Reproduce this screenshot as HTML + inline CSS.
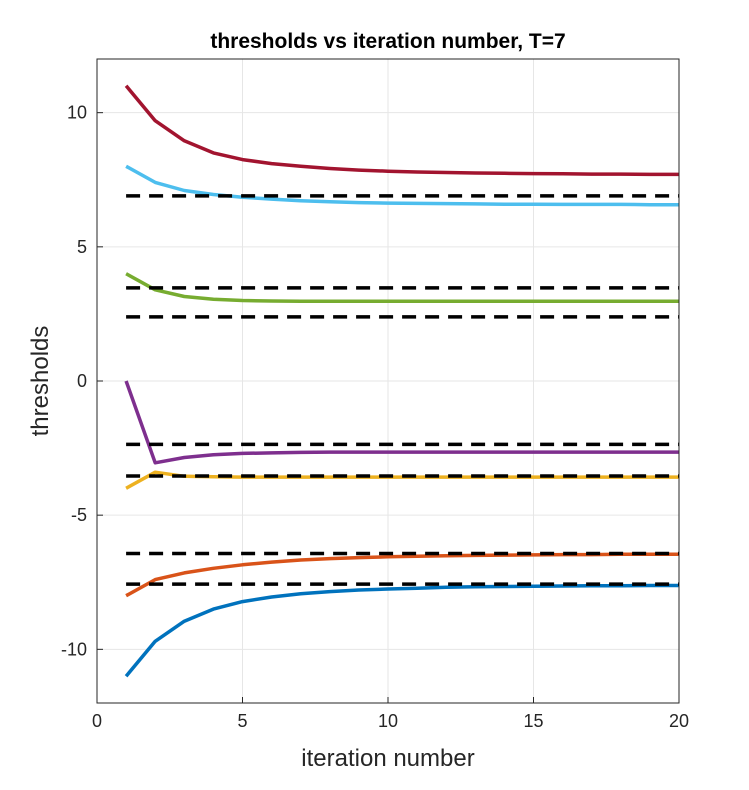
<!DOCTYPE html>
<html><head><meta charset="utf-8"><style>
body{margin:0;background:#fff;}
svg{display:block;font-family:"Liberation Sans",Arial,sans-serif;}
</style></head><body>
<svg id="chart" width="749" height="790">
<rect x="0" y="0" width="749" height="790" fill="#fff"/>
<g id="grid"></g><g id="dashes"></g><g id="series"></g><g id="axes"></g>
<text x="388" y="48" text-anchor="middle" font-size="21" font-weight="bold" fill="#000">thresholds vs iteration number, T=7</text>
<text x="388" y="766" text-anchor="middle" font-size="24" fill="#262626">iteration number</text>
<text transform="translate(48,381) rotate(-90)" text-anchor="middle" font-size="24" fill="#262626">thresholds</text>
</svg>
<script>
const xTicks=[0,5,10,15,20];
const yTicks=[-10,-5,0,5,10];
const yTickLabels=['-10','-5','0','5','10'];
const dashedLevels=[6.9,3.47,2.39,-2.36,-3.54,-6.43,-7.57];
const iterations=[1,2,3,4,5,6,7,8,9,10,11,12,13,14,15,16,17,18,19,20];
const seriesDarkRed=[11,9.7,8.95,8.5,8.25,8.1,8.0,7.92,7.86,7.82,7.79,7.77,7.75,7.74,7.73,7.72,7.71,7.71,7.7,7.7];
const seriesLightBlue=[8,7.4,7.1,6.95,6.85,6.78,6.72,6.68,6.65,6.63,6.62,6.61,6.6,6.59,6.59,6.58,6.58,6.58,6.57,6.57];
const seriesGreen=[4,3.4,3.15,3.05,3.0,2.98,2.97,2.97,2.97,2.97,2.97,2.97,2.97,2.97,2.97,2.97,2.97,2.97,2.97,2.97];
const seriesPurple=[0,-3.05,-2.85,-2.75,-2.7,-2.68,-2.66,-2.65,-2.65,-2.65,-2.65,-2.65,-2.65,-2.65,-2.65,-2.65,-2.65,-2.65,-2.65,-2.65];
const seriesYellow=[-4,-3.4,-3.55,-3.57,-3.58,-3.58,-3.58,-3.58,-3.58,-3.58,-3.58,-3.58,-3.58,-3.58,-3.58,-3.58,-3.58,-3.58,-3.58,-3.58];
const seriesOrange=[-8,-7.4,-7.15,-6.98,-6.85,-6.75,-6.67,-6.62,-6.58,-6.55,-6.53,-6.51,-6.5,-6.49,-6.48,-6.47,-6.47,-6.46,-6.46,-6.46];
const seriesBlue=[-11,-9.7,-8.95,-8.5,-8.22,-8.05,-7.93,-7.85,-7.79,-7.75,-7.72,-7.69,-7.67,-7.66,-7.65,-7.64,-7.63,-7.63,-7.62,-7.62];

const L=97,R=679,T=59,B=703,XMIN=0,XMAX=20,YMIN=-12,YMAX=12;
const sx=v=>L+(v-XMIN)/(XMAX-XMIN)*(R-L);
const sy=v=>B-(v-YMIN)/(YMAX-YMIN)*(B-T);
const NS='http://www.w3.org/2000/svg';
function mk(tag,attrs,parent){const e=document.createElementNS(NS,tag);for(const k in attrs)e.setAttribute(k,attrs[k]);document.getElementById(parent).appendChild(e);return e;}

xTicks.forEach((t,i)=>{
  const g=mk('line',{x1:sx(t),x2:sx(t),y1:T,y2:B,stroke:'#e6e6e6','stroke-width':1},'grid');
  
  
  const tk=mk('line',{x1:sx(t),x2:sx(t),y1:B,y2:B-6,stroke:'#262626'},'axes');
  
  
  const lb=mk('text',{x:sx(t),y:B+24,'text-anchor':'middle','font-size':18,fill:'#262626'},'axes');
  lb.textContent=String(t);
  
  
});
yTicks.forEach((t,i)=>{
  const g=mk('line',{x1:L,x2:R,y1:sy(t),y2:sy(t),stroke:'#e6e6e6','stroke-width':1},'grid');
  
  
  const tk=mk('line',{x1:L,x2:L+6,y1:sy(t),y2:sy(t),stroke:'#262626'},'axes');
  
  
  const lb=mk('text',{x:L-10,y:sy(t)+6,'text-anchor':'end','font-size':18,fill:'#262626'},'axes');
  lb.textContent=yTickLabels[i];
  
  
});
const box=mk('rect',{x:L,y:T,width:R-L,height:B-T,fill:'none',stroke:'#262626','stroke-width':1},'axes');



const seriesList=[[seriesBlue,'#0072bd'],[seriesOrange,'#d95319'],[seriesYellow,'#edb120'],[seriesPurple,'#7e2f8e'],[seriesGreen,'#77ac30'],[seriesLightBlue,'#4dbeee'],[seriesDarkRed,'#a2142f']];
seriesList.forEach(([vals,col])=>{
  const d=vals.map((v,i)=>(i?'L':'M')+sx(iterations[i]).toFixed(1)+','+sy(v).toFixed(1)).join(' ');
  const p=mk('path',{d:d,fill:'none',stroke:col,'stroke-width':3.5,'stroke-linejoin':'round'},'series');
  
  
});
dashedLevels.forEach(v=>{
  const l=mk('line',{x1:sx(iterations[0]),x2:sx(iterations[iterations.length-1]),y1:sy(v),y2:sy(v),stroke:'#000','stroke-width':3.5,'stroke-dasharray':'14 9'},'dashes');
  
  
});
document.getElementById('chart').appendChild(document.getElementById('dashes'));
</script>
</body></html>
